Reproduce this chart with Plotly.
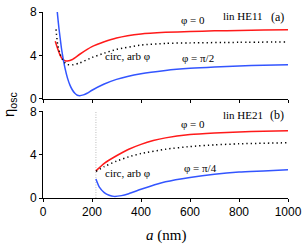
import plotly.graph_objects as go

# ---- Panel (a): lin HE11 ----
a_red_top = [50, 60, 70, 80, 90, 100, 120, 150, 200, 250, 300, 400, 500, 600, 700, 800, 900, 1000]
v_red_top = [5.3, 4.6, 4.0, 3.65, 3.5, 3.48, 3.62, 4.1, 4.8, 5.25, 5.6, 5.97, 6.12, 6.2, 6.26, 6.3, 6.34, 6.37]

a_blue_top = [57, 60, 65, 70, 75, 80, 85, 90, 100, 110, 120, 130, 140, 150, 165, 180, 200, 250, 300, 400, 500, 600, 700, 800, 900, 1000]
v_blue_top = [8.3, 7.6, 6.5, 5.6, 4.7, 4.0, 3.35, 2.8, 1.9, 1.25, 0.8, 0.5, 0.32, 0.28, 0.35, 0.5, 0.78, 1.35, 1.78, 2.3, 2.6, 2.8, 2.93, 3.02, 3.08, 3.12]

a_circ_top = [53, 60, 70, 80, 90, 100, 120, 150, 200, 250, 300, 400, 500, 600, 800, 1000]
v_circ_top = [6.4, 5.0, 4.1, 3.6, 3.3, 3.15, 3.12, 3.3, 3.8, 4.2, 4.55, 4.95, 5.1, 5.15, 5.2, 5.24]

# ---- Panel (b): lin HE21 ----
cutoff_b = 216
a_red_bot = [216, 250, 300, 350, 400, 450, 500, 600, 700, 800, 900, 1000]
v_red_bot = [2.5, 3.2, 3.9, 4.5, 4.95, 5.3, 5.55, 5.85, 6.0, 6.1, 6.17, 6.2]

a_circ_bot = [216, 250, 300, 350, 400, 500, 600, 700, 800, 1000]
v_circ_bot = [2.45, 2.9, 3.4, 3.8, 4.1, 4.5, 4.75, 4.9, 5.0, 5.1]

a_blue_bot = [216, 230, 250, 270, 290, 320, 350, 400, 467, 500, 600, 700, 800, 900, 1000]
v_blue_bot = [1.75, 1.0, 0.5, 0.25, 0.15, 0.22, 0.4, 0.8, 1.3, 1.5, 1.9, 2.2, 2.4, 2.5, 2.6]

x_ticks = [0, 200, 400, 600, 800, 1000]
y_ticks = [0, 4, 8]

RED = "#ff1a1a"
BLUE = "#3355ff"

fig = go.Figure()

def add(x, y, color, xa, ya, dash=None, width=1.5):
    fig.add_trace(go.Scatter(x=x, y=y, mode="lines", xaxis=xa, yaxis=ya,
                             line=dict(color=color, width=width, dash=dash, shape="spline", smoothing=0.6),
                             showlegend=False, hoverinfo="skip"))

# top panel (x2, y2)
add(a_red_top, v_red_top, RED, "x2", "y2")
add(a_blue_top, v_blue_top, BLUE, "x2", "y2")
add(a_circ_top, v_circ_top, "black", "x2", "y2", dash="1.3px,3px")

# bottom panel (x, y)
fig.add_trace(go.Scatter(x=[cutoff_b, cutoff_b], y=[0, 8], mode="lines", xaxis="x", yaxis="y",
                         line=dict(color="#bbbbbb", width=1, dash="1px,1.5px"),
                         showlegend=False, hoverinfo="skip"))
add(a_red_bot, v_red_bot, RED, "x", "y")
add(a_blue_bot, v_blue_bot, BLUE, "x", "y")
add(a_circ_bot, v_circ_bot, "black", "x", "y", dash="1.3px,3px")

axis_common = dict(showline=True, linecolor="black", linewidth=1, ticks="outside",
                   ticklen=3, tickcolor="black", showgrid=False, zeroline=False,
                   ticklabeloverflow="allow",
                   tickfont=dict(family="Liberation Sans, Arial", size=12, color="black"))

fig.update_layout(
    width=307, height=245,
    margin=dict(l=43, r=13, t=5, b=47),
    paper_bgcolor="white", plot_bgcolor="white",
    xaxis=dict(range=[0, 1000], tickvals=x_ticks, anchor="y", **axis_common),
    yaxis=dict(range=[0, 8], tickvals=y_ticks, domain=[0, 0.466], anchor="x", **axis_common),
    xaxis2=dict(range=[0, 1000], tickvals=x_ticks, anchor="y2", showticklabels=False, matches="x", **axis_common),
    yaxis2=dict(range=[0, 8], tickvals=y_ticks, domain=[0.534, 1], anchor="x2", **axis_common),
)

serif = dict(family="Liberation Serif, Times New Roman", size=11, color="black")
ann = [
    ("x2", "y2", 613, 7.29, "φ = 0"),
    ("x2", "y2", 818, 7.64, "lin HE11"),
    ("x2", "y2", 957, 7.56, "(a)"),
    ("x2", "y2", 345, 3.9, "circ, arb φ"),
    ("x2", "y2", 631, 3.73, "φ = π/2"),
    ("x", "y", 818, 7.65, "lin HE21"),
    ("x", "y", 957, 7.65, "(b)"),
    ("x", "y", 613, 6.8, "φ = 0"),
    ("x", "y", 642, 2.74, "φ = π/4"),
    ("x", "y", 345, 2.3, "circ, arb φ"),
]
for xr, yr, x, y, t in ann:
    f = dict(serif)
    if t in ("(a)", "(b)"):
        f["size"] = 12
    fig.add_annotation(xref=xr, yref=yr, x=x, y=y, text=t, showarrow=False, font=f,
                       xanchor="center", yanchor="middle")

fig.add_annotation(xref="paper", yref="paper", x=0.5, y=0, yshift=-37, text="<i>a</i> (nm)",
                   showarrow=False, font=dict(family="Liberation Serif, Times New Roman", size=15, color="black"),
                   xanchor="center", yanchor="middle")
fig.add_annotation(xref="paper", yref="paper", x=0, xshift=-34, y=0.5, text="η<sub>osc</sub>",
                   textangle=-90, showarrow=False,
                   font=dict(family="Liberation Sans, Arial", size=15, color="black"),
                   xanchor="center", yanchor="middle")

fig.write_html("out.html", config={"displayModeBar": False},
               post_script="document.body.style.margin='0';document.body.style.overflow='hidden';")
